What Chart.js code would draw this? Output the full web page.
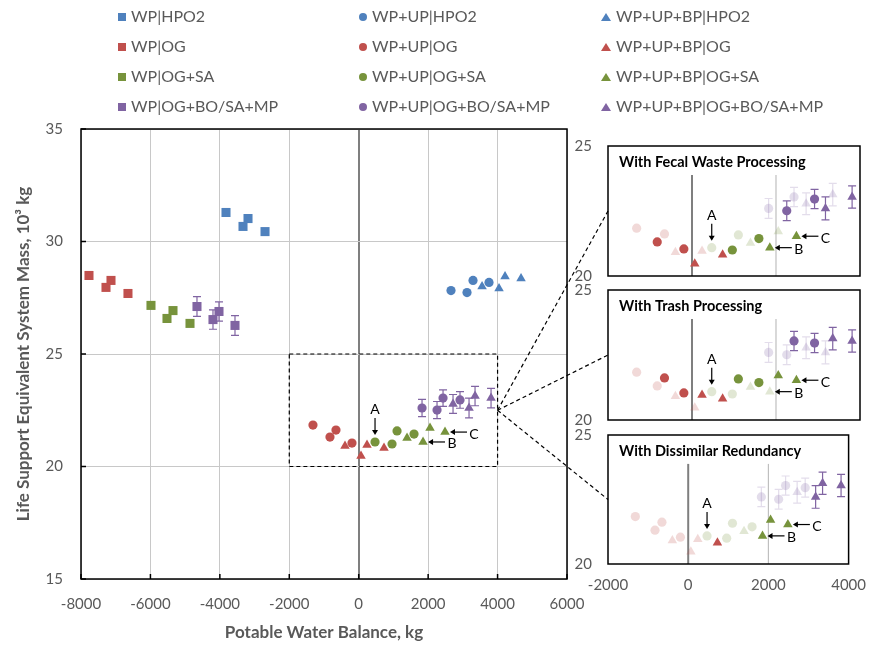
<!DOCTYPE html>
<html>
<head>
<meta charset="utf-8">
<title>Life Support ESM vs Potable Water Balance</title>
<script src="https://cdn.jsdelivr.net/npm/chart.js@4.4.1/dist/chart.umd.min.js"></script>
<style>
    body { margin: 0; background: #fff; }
    #wrap { position: relative; width: 878px; height: 645px; overflow: hidden; font-family: Lato, "Open Sans", sans-serif; }
    #wrap canvas { position: absolute; }
    .lg-item { position: absolute; height: 20px; line-height: 20px; font-size: 16px; color: #595959; white-space: nowrap; }
    .lg-mark { display: inline-block; vertical-align: middle; margin-right: 5px; position: relative; top: -1px; }
</style>
</head>
<body>
<div id="wrap">
    <canvas id="mainChart" width="878" height="645" style="left:0;top:0"></canvas>
    <canvas id="insetFecal" width="318" height="186" style="left:560px;top:118px"></canvas>
    <canvas id="insetTrash" width="318" height="186" style="left:560px;top:262px"></canvas>
    <canvas id="insetRedund" width="318" height="197" style="left:560px;top:407px"></canvas>
    <canvas id="overlay" width="878" height="645" style="left:0;top:0;pointer-events:none"></canvas>
    <div id="legend"></div>
</div>
<script>
// Point order in every series: [none, fecal, trash, fecal + trash]

// WP (squares)
const wpHpo2X = [-3823, -3189, -3333, -2699];
const wpHpo2Y = [31.29, 31.02, 30.67, 30.44];
const wpOgX = [-7770, -7136, -7280, -6647];
const wpOgY = [28.49, 28.27, 27.96, 27.69];
const wpOgSaX = [-5984, -5350, -5523, -4860];
const wpOgSaY = [27.16, 26.93, 26.58, 26.36];
const wpMpX = [-4659, -4025, -4198, -3564];
const wpMpY = [27.11, 26.89, 26.53, 26.27];
const wpMpErr = [0.44, 0.43, 0.43, 0.44];

// WP+UP (circles)
const upHpo2X = [2659, 3120, 3293, 3754];
const upHpo2Y = [27.82, 27.73, 28.27, 28.18];
const upOgX = [-1318, -828, -655, -194];
const upOgY = [21.84, 21.31, 21.62, 21.04];
const upOgSaX = [470, 960, 1104, 1593];
const upOgSaY = [21.09, 21.0, 21.58, 21.44];
const upMpX = [1824, 2256, 2429, 2918];
const upMpY = [22.6, 22.51, 23.04, 22.96];
const upMpErr = [0.38, 0.38, 0.37, 0.37];

// WP+UP+BP (triangles)
const bpHpo2X = [3553, 4042, 4215, 4676];
const bpHpo2Y = [28.0, 27.91, 28.44, 28.36];
const bpOgX = [-395, 66, 239, 729];
const bpOgY = [20.91, 20.47, 20.96, 20.82];
const bpOgSaX = [1392, 1853, 2054, 2486];
const bpOgSaY = [21.27, 21.09, 21.71, 21.53];
const bpMpX = [2717, 3178, 3351, 3812];
const bpMpY = [22.78, 22.6, 23.13, 23.04];
const bpMpErr = [0.42, 0.44, 0.43, 0.43];

// Which points are highlighted in each inset (1 = solid, 0 = faded)
const fecalHighlight = [0, 1, 0, 1];
const trashHighlight = [0, 0, 1, 1];
const redundNone = [0, 0, 0, 0];
const redundBpOg = [0, 0, 0, 1];
const redundBpRest = [0, 1, 1, 1];

// Axis ranges and ticks
const mainXTicks = [-8000, -6000, -4000, -2000, 0, 2000, 4000, 6000];
const mainYTicks = [15, 20, 25, 30, 35];
const insetXTicks = [-2000, 0, 2000, 4000];
const insetYTicks = [20, 25];
const insetGuideX = [0, 2000];
const insetGuideTop = 23.88;

// Zoom box on the main chart and where the connectors start
const zoomBox = { xMin: -2000, xMax: 4000, yMin: 20, yMax: 25 };
const zoomAnchor = { x: 4000, y: 22.5 };

const BLUE = '#4F81BD', RED = '#C0504D', GREEN = '#77933C', PURPLE = '#8064A2';
const FONT = 'Lato, "Open Sans", sans-serif';
const TEXT_GRAY = '#595959';
const FADE = 0.22;
const RADIUS = { rect: 6.4, circle: 4.6, triangle: 5.5 };

// Series, in legend order (row by row)
const series = [
    { label: 'WP|HPO2', x: wpHpo2X, y: wpHpo2Y, color: BLUE, shape: 'rect' },
    { label: 'WP+UP|HPO2', x: upHpo2X, y: upHpo2Y, color: BLUE, shape: 'circle' },
    { label: 'WP+UP+BP|HPO2', x: bpHpo2X, y: bpHpo2Y, color: BLUE, shape: 'triangle' },
    { label: 'WP|OG', x: wpOgX, y: wpOgY, color: RED, shape: 'rect' },
    { label: 'WP+UP|OG', x: upOgX, y: upOgY, color: RED, shape: 'circle', inset: true, redund: redundNone },
    { label: 'WP+UP+BP|OG', x: bpOgX, y: bpOgY, color: RED, shape: 'triangle', inset: true, redund: redundBpOg },
    { label: 'WP|OG+SA', x: wpOgSaX, y: wpOgSaY, color: GREEN, shape: 'rect' },
    { label: 'WP+UP|OG+SA', x: upOgSaX, y: upOgSaY, color: GREEN, shape: 'circle', inset: true, redund: redundNone },
    { label: 'WP+UP+BP|OG+SA', x: bpOgSaX, y: bpOgSaY, color: GREEN, shape: 'triangle', inset: true, redund: redundBpRest },
    { label: 'WP|OG+BO/SA+MP', x: wpMpX, y: wpMpY, err: wpMpErr, color: PURPLE, shape: 'rect' },
    { label: 'WP+UP|OG+BO/SA+MP', x: upMpX, y: upMpY, err: upMpErr, color: PURPLE, shape: 'circle', inset: true, redund: redundNone },
    { label: 'WP+UP+BP|OG+BO/SA+MP', x: bpMpX, y: bpMpY, err: bpMpErr, color: PURPLE, shape: 'triangle', inset: true, redund: redundBpRest },
];

// A / B / C callouts
const callouts = [
    { text: 'A', series: 'WP+UP|OG+SA', index: 0, dir: 'down' },
    { text: 'B', series: 'WP+UP+BP|OG+SA', index: 1, dir: 'left' },
    { text: 'C', series: 'WP+UP+BP|OG+SA', index: 3, dir: 'left' },
];

const panels = [
    { canvas: 'insetFecal', title: 'With Fecal Waste Processing', key: 'fecal', showX: false },
    { canvas: 'insetTrash', title: 'With Trash Processing', key: 'trash', showX: false },
    { canvas: 'insetRedund', title: 'With Dissimilar Redundancy', key: 'redund', showX: true },
];

function hexToRgba(hex, a) {
    const n = parseInt(hex.slice(1), 16);
    return `rgba(${(n >> 16) & 255}, ${(n >> 8) & 255}, ${n & 255}, ${a})`;
}

function highlightFor(s, key) {
    if (!key) return null;
    if (key === 'fecal') return fecalHighlight;
    if (key === 'trash') return trashHighlight;
    return s.redund;
}

function buildDataset(s, highlight) {
    const colors = s.x.map((_, i) => (highlight && !highlight[i]) ? hexToRgba(s.color, FADE) : s.color);
    return {
        label: s.label,
        data: s.x.map((x, i) => ({ x: x, y: s.y[i] })),
        errors: s.err || null,
        pointStyle: s.shape,
        pointRadius: RADIUS[s.shape],
        pointBackgroundColor: colors,
        pointBorderColor: colors,
        pointBorderWidth: 0,
        showLine: false,
    };
}

function drawArrow(ctx, x1, y1, x2, y2) {
    const ang = Math.atan2(y2 - y1, x2 - x1);
    const head = 5;
    ctx.beginPath();
    ctx.moveTo(x1, y1);
    ctx.lineTo(x2 - Math.cos(ang) * head * 0.8, y2 - Math.sin(ang) * head * 0.8);
    ctx.stroke();
    ctx.beginPath();
    ctx.moveTo(x2, y2);
    ctx.lineTo(x2 - head * Math.cos(ang) + 3 * Math.sin(ang), y2 - head * Math.sin(ang) - 3 * Math.cos(ang));
    ctx.lineTo(x2 - head * Math.cos(ang) - 3 * Math.sin(ang), y2 - head * Math.sin(ang) + 3 * Math.cos(ang));
    ctx.closePath();
    ctx.fill();
}

// Error bars with caps, drawn under the markers
const errorBarPlugin = {
    id: 'errorBars',
    beforeDatasetsDraw(chart) {
        const ctx = chart.ctx;
        const yScale = chart.scales.y;
        chart.data.datasets.forEach((ds, di) => {
            if (!ds.errors) return;
            const meta = chart.getDatasetMeta(di);
            meta.data.forEach((pt, i) => {
                const v = ds.data[i].y;
                const e = ds.errors[i];
                const top = yScale.getPixelForValue(v + e);
                const bot = yScale.getPixelForValue(v - e);
                ctx.save();
                ctx.strokeStyle = ds.pointBackgroundColor[i];
                ctx.lineWidth = 1.2;
                ctx.beginPath();
                ctx.moveTo(pt.x, top);
                ctx.lineTo(pt.x, bot);
                ctx.moveTo(pt.x - 4, top);
                ctx.lineTo(pt.x + 4, top);
                ctx.moveTo(pt.x - 4, bot);
                ctx.lineTo(pt.x + 4, bot);
                ctx.stroke();
                ctx.restore();
            });
        });
    }
};

const calloutPlugin = {
    id: 'callouts',
    afterDatasetsDraw(chart) {
        const ctx = chart.ctx;
        callouts.forEach(c => {
            const di = chart.data.datasets.findIndex(d => d.label === c.series);
            if (di < 0) return;
            const pt = chart.getDatasetMeta(di).data[c.index];
            ctx.save();
            ctx.strokeStyle = '#000';
            ctx.fillStyle = '#000';
            ctx.lineWidth = 1.2;
            ctx.font = `14px ${FONT}`;
            ctx.textAlign = 'center';
            ctx.textBaseline = 'middle';
            if (c.dir === 'down') {
                drawArrow(ctx, pt.x, pt.y - 24, pt.x, pt.y - 7);
                ctx.fillText(c.text, pt.x, pt.y - 32);
            } else {
                drawArrow(ctx, pt.x + 22, pt.y, pt.x + 5, pt.y);
                ctx.fillText(c.text, pt.x + 29, pt.y + 2);
            }
            ctx.restore();
        });
    }
};

// Black frame, inner tick marks and the dashed zoom box
const mainFramePlugin = {
    id: 'mainFrame',
    afterDraw(chart) {
        const ctx = chart.ctx;
        const { left, right, top, bottom } = chart.chartArea;
        const xs = chart.scales.x, ys = chart.scales.y;
        ctx.save();
        ctx.strokeStyle = '#000';
        ctx.lineWidth = 1.5;
        ctx.strokeRect(left, top, right - left, bottom - top);
        ctx.beginPath();
        mainYTicks.forEach(v => {
            const y = ys.getPixelForValue(v);
            ctx.moveTo(left, y);
            ctx.lineTo(left + 5, y);
        });
        mainXTicks.forEach(v => {
            const x = xs.getPixelForValue(v);
            ctx.moveTo(x, bottom);
            ctx.lineTo(x, bottom - 5);
        });
        ctx.stroke();

        const x1 = xs.getPixelForValue(zoomBox.xMin), x2 = xs.getPixelForValue(zoomBox.xMax);
        const y1 = ys.getPixelForValue(zoomBox.yMax), y2 = ys.getPixelForValue(zoomBox.yMin);
        ctx.setLineDash([4, 3]);
        ctx.lineWidth = 1.2;
        ctx.strokeRect(x1, y1, x2 - x1, y2 - y1);
        ctx.restore();
    }
};

// Inset: guide lines, box, title
const insetPlugin = {
    id: 'insetFrame',
    beforeDatasetsDraw(chart) {
        const ctx = chart.ctx;
        const xs = chart.scales.x, ys = chart.scales.y;
        ctx.save();
        insetGuideX.forEach(v => {
            const x = xs.getPixelForValue(v);
            ctx.strokeStyle = v === 0 ? '#7F7F7F' : '#BFBFBF';
            ctx.lineWidth = v === 0 ? 2 : 1.2;
            ctx.beginPath();
            ctx.moveTo(x, ys.getPixelForValue(insetYTicks[0]));
            ctx.lineTo(x, ys.getPixelForValue(insetGuideTop));
            ctx.stroke();
        });
        ctx.restore();
    },
    afterDraw(chart, args, opts) {
        const ctx = chart.ctx;
        const { left, right, top, bottom } = chart.chartArea;
        ctx.save();
        ctx.strokeStyle = '#000';
        ctx.lineWidth = 1.5;
        ctx.strokeRect(left, top, right - left, bottom - top);
        ctx.fillStyle = '#000';
        ctx.font = `bold 14.5px ${FONT}`;
        ctx.textAlign = 'left';
        ctx.textBaseline = 'middle';
        ctx.fillText(opts.title, left + 11, top + 16);
        ctx.restore();
    }
};

const tickFont = { family: FONT, size: 15 };

// Main chart
const mainChart = new Chart(document.getElementById('mainChart'), {
    type: 'scatter',
    data: { datasets: series.map(s => buildDataset(s, null)) },
    options: {
        responsive: false,
        animation: false,
        events: [],
        layout: { padding: { top: 129, right: 311, bottom: 0, left: 0 } },
        plugins: { legend: { display: false }, tooltip: { enabled: false } },
        scales: {
            x: {
                type: 'linear',
                min: mainXTicks[0],
                max: mainXTicks[mainXTicks.length - 1],
                afterBuildTicks: s => { s.ticks = mainXTicks.map(v => ({ value: v })); },
                ticks: { color: TEXT_GRAY, font: tickFont, padding: 16, callback: v => String(v) },
                grid: {
                    color: c => (c.tick && c.tick.value === 0) ? '#7F7F7F' : '#C8C8C8',
                    lineWidth: c => (c.tick && c.tick.value === 0) ? 2 : 1,
                    drawTicks: false
                },
                border: { display: false },
                title: {
                    display: true,
                    text: 'Potable Water Balance, kg',
                    color: TEXT_GRAY,
                    font: { family: FONT, size: 17, weight: 'bold' },
                    padding: { top: 0, bottom: 2 }
                },
                afterFit: s => { s.height = 66; }
            },
            y: {
                type: 'linear',
                min: mainYTicks[0],
                max: mainYTicks[mainYTicks.length - 1],
                afterBuildTicks: s => { s.ticks = mainYTicks.map(v => ({ value: v })); },
                ticks: { color: TEXT_GRAY, font: tickFont, padding: 18, callback: v => String(v) },
                grid: { color: '#C8C8C8', lineWidth: 1, drawTicks: false },
                border: { display: false },
                title: {
                    display: true,
                    text: 'Life Support Equivalent System Mass, 10³ kg',
                    color: TEXT_GRAY,
                    font: { family: FONT, size: 17, weight: 'bold' },
                    padding: { top: 13, bottom: 0 }
                },
                afterFit: s => { s.width = 81; }
            }
        }
    },
    plugins: [errorBarPlugin, calloutPlugin, mainFramePlugin]
});

// Insets (top/bottom padding leaves room for the tick label padding Chart.js reserves)
function makeInset(panel) {
    const datasets = series.filter(s => s.inset).map(s => buildDataset(s, highlightFor(s, panel.key)));
    return new Chart(document.getElementById(panel.canvas), {
        type: 'scatter',
        data: { datasets: datasets },
        options: {
            responsive: false,
            animation: false,
            events: [],
            layout: { padding: { top: 28, right: 18, left: 0, bottom: panel.showX ? 0 : 28 } },
            plugins: {
                legend: { display: false },
                tooltip: { enabled: false },
                insetFrame: { title: panel.title }
            },
            scales: {
                x: {
                    type: 'linear',
                    display: panel.showX,
                    min: insetXTicks[0],
                    max: insetXTicks[insetXTicks.length - 1],
                    afterBuildTicks: s => { s.ticks = insetXTicks.map(v => ({ value: v })); },
                    ticks: { color: TEXT_GRAY, font: tickFont, padding: 12, callback: v => String(v) },
                    grid: { display: false, drawTicks: false },
                    border: { display: false },
                    afterFit: s => { s.height = panel.showX ? 40 : 0; }
                },
                y: {
                    type: 'linear',
                    min: insetYTicks[0],
                    max: insetYTicks[insetYTicks.length - 1],
                    afterBuildTicks: s => { s.ticks = insetYTicks.map(v => ({ value: v })); },
                    ticks: { color: TEXT_GRAY, font: tickFont, padding: 16, callback: v => String(v) },
                    grid: { display: false, drawTicks: false },
                    border: { display: false },
                    afterFit: s => { s.width = 48; }
                }
            }
        },
        plugins: [errorBarPlugin, insetPlugin, calloutPlugin]
    });
}

const insetCharts = panels.map(makeInset);

// Dashed connectors from the zoom box to each inset
function drawConnectors() {
    const ctx = document.getElementById('overlay').getContext('2d');
    const sx = mainChart.scales.x.getPixelForValue(zoomAnchor.x);
    const sy = mainChart.scales.y.getPixelForValue(zoomAnchor.y);
    ctx.save();
    ctx.strokeStyle = '#000';
    ctx.lineWidth = 1.2;
    ctx.setLineDash([4, 3]);
    insetCharts.forEach(ch => {
        const c = ch.canvas;
        const tx = c.offsetLeft + ch.scales.x.getPixelForValue(insetXTicks[0]);
        const ty = c.offsetTop + ch.scales.y.getPixelForValue(zoomAnchor.y);
        ctx.beginPath();
        ctx.moveTo(sx, sy);
        ctx.lineTo(tx, ty);
        ctx.stroke();
    });
    ctx.restore();
}

// HTML legend, 3 columns x 4 rows
function buildLegend() {
    const box = document.getElementById('legend');
    const colLeft = [118, 359, 601];
    const rowTop = [6, 36, 66, 96];
    series.forEach((s, i) => {
        const item = document.createElement('div');
        item.className = 'lg-item';
        item.style.left = colLeft[i % 3] + 'px';
        item.style.top = rowTop[Math.floor(i / 3)] + 'px';
        const mark = document.createElement('span');
        mark.className = 'lg-mark';
        if (s.shape === 'triangle') {
            mark.style.width = '0';
            mark.style.height = '0';
            mark.style.borderLeft = '5px solid transparent';
            mark.style.borderRight = '5px solid transparent';
            mark.style.borderBottom = '8px solid ' + s.color;
        } else {
            mark.style.width = '8px';
            mark.style.height = '8px';
            mark.style.background = s.color;
            if (s.shape === 'circle') mark.style.borderRadius = '50%';
        }
        item.appendChild(mark);
        item.appendChild(document.createTextNode(s.label));
        box.appendChild(item);
    });
}

drawConnectors();
buildLegend();
</script>
</body>
</html>
